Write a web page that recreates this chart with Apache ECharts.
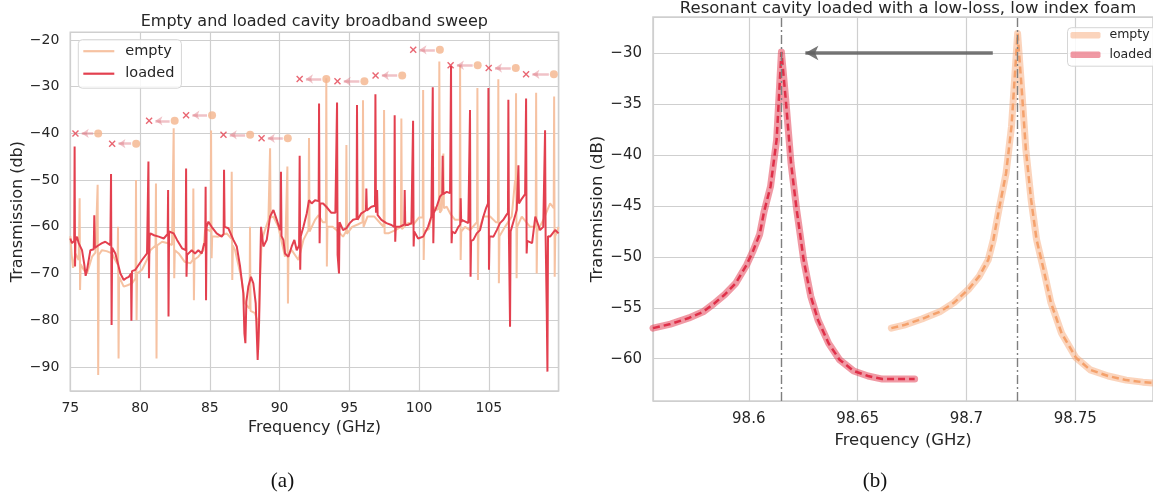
<!DOCTYPE html>
<html><head><meta charset="utf-8">
<script src="https://cdn.jsdelivr.net/npm/echarts@6/dist/echarts.min.js"></script>
<style>html,body{margin:0;padding:0;background:#fff}#c{width:1153px;height:492px}</style>
</head><body><div id="c"></div>
<script>
// ---------- (a) broadband sweep ----------
const broadEmpty = [
[75.0,-62],[75.1,-66],[75.2,-68.8],[75.36,-65.7],[75.6,-67.1],
[75.64,-67],[75.67,-53.9],[75.7,-73.5],[75.74,-68],
[75.96,-69.2],[76.2,-70],[76.56,-66.4],[76.8,-65.5],
[76.93,-65.5],[76.96,-51],[77.0,-91.7],[77.04,-66],
[77.27,-65],[77.6,-65.2],[77.99,-65.7],[78.2,-67],
[78.39,-68],[78.42,-60],[78.46,-88.2],[78.5,-70.7],
[78.83,-72.8],[79.1,-72.5],[79.42,-72.1],
[79.68,-71],[79.71,-50],[79.75,-80],[79.79,-70],
[80.14,-69.2],[80.5,-67],[80.74,-65],
[81.11,-64],[81.14,-50.7],[81.18,-88.2],[81.22,-64],
[81.58,-63.2],[82.0,-63.5],[82.29,-63.9],
[82.38,-64],[82.41,-38.9],[82.45,-71],[82.49,-65],
[82.77,-65.7],[83.2,-67.5],[83.61,-67.8],
[83.79,-67],[83.82,-51.8],[83.86,-75.7],[83.9,-67],
[84.18,-66.4],[84.54,-65],[84.66,-60.7],[84.9,-60.7],
[85.06,-61],[85.09,-39.4],[85.13,-66.7],[85.17,-62],
[85.61,-62.1],[86.21,-61.4],
[86.54,-62.5],[86.57,-48.2],[86.61,-71.4],[86.65,-64],
[86.81,-65],[87.29,-71.4],[87.52,-76.4],
[87.85,-77.5],[87.88,-60],[87.92,-78],
[88.24,-78.5],[88.4,-80],[88.48,-86.4],[88.55,-75],[88.72,-62.8],[89.2,-58.5],
[89.29,-58.3],[89.32,-43.2],[89.36,-58],
[89.56,-57.8],[89.91,-60],[90.39,-66.4],
[90.53,-66],[90.56,-47.1],[90.6,-76.4],[90.64,-66],
[90.87,-65],[91.35,-67.1],[91.71,-62.8],[92.07,-60.7],
[92.08,-60.5],[92.11,-41],[92.15,-61],
[92.54,-58.5],[92.8,-57.5],[93.1,-59],
[93.32,-59],[93.35,-28.2],[93.39,-68.5],[93.43,-60],
[93.8,-60],[94.2,-61],[94.55,-62.1],
[94.76,-61],[94.79,-42.5],[94.83,-61.5],
[95.2,-60],[95.6,-59.5],
[95.95,-59],[95.98,-32.9],[96.02,-60],
[96.3,-57.8],[96.8,-57.8],[97.3,-59.5],
[97.46,-60],[97.49,-35],[97.53,-61.4],
[97.8,-61.4],[98.3,-60.7],
[98.7,-60],[98.73,-36.8],[98.77,-60.5],
[99.2,-59.2],[99.6,-59.5],[100.0,-58],
[100.26,-58],[100.29,-30.7],[100.33,-67.1],[100.37,-61],
[100.7,-60.5],[101.02,-55.7],[101.26,-56.4],
[101.42,-56],[101.45,-24.6],[101.49,-57],
[101.62,-56.4],
[101.71,-56],[101.74,-44.3],[101.78,-56],
[101.98,-55.7],[102.22,-57.1],[102.58,-58.5],
[102.91,-58.5],[102.94,-25.4],[102.98,-67.1],[103.02,-61],
[103.29,-60],[103.65,-60.7],[104.0,-59.5],
[104.15,-59],[104.18,-30.3],[104.22,-71.4],[104.26,-61],
[104.61,-57.8],[105.09,-57.8],[105.5,-59],
[105.65,-59],[105.68,-28.4],[105.72,-72.1],[105.76,-62],
[106.16,-60],[106.64,-57.8],[106.88,-50],
[106.92,-52],[106.95,-31.4],[106.99,-71],[107.03,-60],
[107.36,-57.8],[107.96,-60],
[108.36,-60],[108.39,-31.3],[108.43,-70],[108.47,-61],
[108.91,-58.5],[109.39,-55],
[109.65,-56],[109.68,-32.1],[109.72,-70.7],[109.76,-62],
[110.0,-60]
];
const broadLoaded = [
[75.0,-62.5],[75.12,-63.5],
[75.28,-63],[75.31,-42.8],[75.34,-68.5],[75.37,-63],
[75.48,-62.1],[75.6,-63.5],[75.84,-65.0],[76.0,-68],[76.1,-70.5],[76.2,-69.2],[76.44,-65],
[76.68,-64.8],[76.72,-57.5],[76.76,-64.5],
[77.0,-64.0],[77.27,-63.5],[77.51,-63.2],[77.87,-63.9],
[77.92,-48.7],[77.96,-81],[78.0,-64.5],
[78.23,-65.7],[78.59,-70],[78.83,-71.4],[79.0,-71],[79.2,-70.7],
[79.35,-70],[79.38,-80.1],[79.42,-69.5],
[79.66,-69.2],[80.14,-67.1],[80.5,-65.7],
[80.6,-46.0],[80.64,-71],[80.68,-62],
[80.74,-61.4],[81.0,-61.8],[81.34,-62.1],[81.7,-62.5],
[81.98,-61.5],[82.01,-52.1],[82.04,-79.2],[82.08,-61],
[82.41,-61.4],[82.65,-62.8],[83.01,-64.6],
[83.27,-65],[83.3,-47.5],[83.33,-70.7],[83.37,-66],
[83.49,-66],[83.7,-65],[83.94,-65.7],[84.18,-65],[84.42,-65.7],[84.6,-63.5],
[84.67,-64],[84.7,-51.4],[84.73,-75.7],[84.77,-60],
[84.9,-58.9],[85.13,-60],[85.49,-61.4],[85.85,-62.1],
[85.99,-61.5],[86.02,-47.8],[86.06,-60],
[86.14,-59.6],[86.33,-60.3],[86.69,-62.8],[86.93,-64.2],[87.17,-68.5],[87.4,-74.2],
[87.48,-82.8],[87.55,-84.9],[87.62,-76],[87.76,-72.8],[87.95,-70.7],[88.12,-72.1],
[88.29,-76.4],[88.43,-88.5],[88.53,-80.7],[88.67,-60],[88.84,-64.2],[89.08,-62.8],
[89.32,-57.8],[89.56,-56.4],[89.8,-58.5],[90.03,-60.7],
[90.07,-60],[90.1,-48.2],[90.14,-62],
[90.27,-62.8],[90.39,-65.7],[90.63,-66.4],[90.87,-64.2],[91.06,-62.8],[91.23,-65],
[91.4,-64],[91.44,-44.8],[91.48,-69.2],[91.52,-62],
[91.71,-60],[91.95,-57.1],[92.11,-54.3],[92.3,-55],[92.54,-54.3],
[92.8,-54.5],[92.83,-33.6],[92.87,-63.5],[92.91,-55],
[93.12,-55],[93.35,-55.7],[93.71,-57],[94.0,-57],
[94.09,-57],[94.12,-33.4],[94.16,-66],[94.26,-70],[94.3,-59],
[94.43,-59.2],[94.55,-60.7],[94.79,-60.3],[95.03,-59.2],[95.27,-58.5],
[95.52,-58.3],[95.55,-33.9],[95.59,-58.5],
[95.86,-57.1],
[96.19,-56.5],[96.22,-51.8],[96.26,-56.5],
[96.58,-55.7],
[96.84,-55.5],[96.87,-31.6],[96.91,-57],[96.99,-52.1],[97.03,-57.5],
[97.3,-58.5],[97.66,-59.2],[98.02,-59.6],
[98.22,-60],[98.25,-36.1],[98.29,-63.2],[98.33,-60],
[98.61,-60],
[98.94,-59.5],[98.97,-52.1],[99.01,-59.6],
[99.21,-59.6],[99.45,-59.2],
[99.54,-59.5],[99.57,-37.3],[99.61,-64.2],[99.65,-61],
[99.93,-62.5],[100.29,-62.1],[100.64,-60],[100.88,-57.8],
[100.95,-57.5],[100.98,-30.1],[101.02,-63.5],[101.06,-57],
[101.26,-55.7],[101.5,-53.5],
[101.66,-53],[101.69,-44.8],[101.73,-53],
[101.98,-52.5],[102.22,-52.8],
[102.26,-52.8],[102.29,-25.5],[102.33,-63.5],[102.37,-61],
[102.58,-61.4],[102.82,-60],
[102.95,-59.5],[102.98,-53.9],[103.02,-59],
[103.06,-58.5],[103.53,-59.2],
[103.62,-59.5],[103.65,-35],[103.69,-70.7],[103.73,-63],
[103.89,-62.8],[104.13,-61.4],[104.37,-60.7],[104.61,-57.8],[104.8,-56],
[104.94,-55],[104.97,-30.3],[105.01,-69.2],[105.05,-62],
[105.33,-62.1],[105.57,-60.7],[105.8,-59.2],[106.04,-58.5],[106.25,-57.5],
[106.37,-57],[106.4,-32.8],[106.44,-62],[106.52,-81.4],[106.56,-61],
[106.64,-60.7],[107.0,-56.4],
[107.09,-56],[107.12,-46.8],[107.16,-55],
[107.36,-54],[107.6,-53],
[107.64,-53],[107.67,-32.5],[107.71,-65.7],[107.75,-63],
[108.1,-63.5],[108.33,-57.8],[108.67,-60.7],[108.9,-60],
[109.0,-60],[109.03,-39.3],[109.07,-62],[109.15,-78],[109.2,-91],[109.24,-62],
[109.39,-62.1],[109.75,-60.7],[110.0,-61.4]
];
const modeDb        = [-40.0,-42.2,-37.3,-36.1,-40.3,-41.05,-28.35,-28.85,-27.6,-22.1,-25.4,-26.0,-27.35];
const loadedModeGHz = [75.37,78.0,80.65,83.3,85.98,88.71,91.44,94.15,96.88,99.58,102.26,104.99,107.67];
const emptyModeGHz  = [77.0,79.72,82.48,85.16,87.89,90.59,93.35,96.08,98.79,101.49,104.2,106.93,109.66];

// ---------- (b) single resonance ----------
const resLoaded = [
[98.556,-57.0],[98.564,-56.6],[98.5725,-56.0],[98.579,-55.4],[98.584,-54.6],[98.589,-53.7],
[98.594,-52.6],[98.599,-50.8],[98.602,-49.4],[98.605,-47.8],[98.607,-45.6],[98.610,-43.1],
[98.6128,-38.5],[98.615,-29.9],[98.617,-34.6],[98.6194,-40.8],[98.622,-45.4],[98.6236,-47.8],
[98.6252,-50.3],[98.6285,-53.9],[98.6318,-56.2],[98.6367,-58.5],[98.6417,-60.1],[98.6482,-61.2],
[98.6548,-61.7],[98.6614,-62.0],[98.668,-62.0],[98.6762,-62.0]
];
const resEmpty = [
[98.6655,-57.0],[98.6713,-56.7],[98.6795,-56.1],[98.6877,-55.4],[98.6943,-54.5],[98.7009,-53.2],
[98.7059,-51.9],[98.71,-50.3],[98.7124,-48.3],[98.7149,-45.4],[98.7182,-41.8],[98.7207,-37.2],
[98.7235,-28.1],[98.7253,-33.3],[98.7273,-39.5],[98.7297,-44.4],[98.7322,-48.3],[98.7355,-51.3],
[98.7388,-54.5],[98.7437,-57.5],[98.7503,-59.9],[98.7569,-61.1],[98.7651,-61.7],[98.7734,-62.1],
[98.781,-62.3],[98.787,-62.4]
];
const resPeakGHz = [98.615, 98.7235];
const shiftArrow = {from: [98.7121, -30], to: [98.626, -30]};
const shiftLabel = {at: [98.669, -34.02], text: '0.11 GHz'};

const FONT = '"DejaVu Sans", sans-serif';
const INK = '#262626';
const GRIDC = '#cfcfcf';
const minus = s => String(s).replace('-', '\u2212');

const chart = echarts.init(document.getElementById('c'), null, {renderer: 'canvas'});

const xMark = 'path://M1.4,0L5,3.6L8.6,0L10,1.4L6.4,5L10,8.6L8.6,10L5,6.4L1.4,10L0,8.6L3.6,5L0,1.4Z';

const option = {
  animation: false,
  backgroundColor: '#fff',
  textStyle: {fontFamily: FONT},
  grid: [
    {left: 70.3, top: 32.3, right: 594.4, bottom: 101, show: true, borderColor: GRIDC, borderWidth: 1.5, containLabel: false},
    {left: 653, top: 17, right: -10, bottom: 91, show: true, borderColor: GRIDC, borderWidth: 1.5, containLabel: false}
  ],
  xAxis: [
    {gridIndex: 0, type: 'value', min: 75, max: 110, interval: 5,
     name: 'Frequency (GHz)', nameLocation: 'middle', nameGap: 25,
     nameTextStyle: {fontSize: 16, color: INK, fontFamily: FONT},
     axisLine: {show: false}, axisTick: {show: false},
     axisLabel: {fontSize: 14, color: INK, margin: 10, showMaxLabel: false, fontFamily: FONT},
     splitLine: {show: true, lineStyle: {color: GRIDC, width: 1.2}}},
    {gridIndex: 1, type: 'value', min: 98.556, max: 98.7857, splitNumber: 5,
     name: 'Frequency (GHz)', nameLocation: 'middle', nameGap: 29,
     nameTextStyle: {fontSize: 16.5, color: INK, fontFamily: FONT},
     axisLine: {show: false}, axisTick: {show: false},
     axisLabel: {fontSize: 15, color: INK, margin: 11, showMinLabel: false, showMaxLabel: false, fontFamily: FONT,
       formatter: v => (Math.abs(v*20 - Math.round(v*20)) < 1e-6) ? String(+v.toFixed(2)) : ''},
     splitLine: {show: true, lineStyle: {color: GRIDC, width: 1.2}}}
  ],
  yAxis: [
    {gridIndex: 0, type: 'value', min: -95.15, max: -18.35, splitNumber: 8,
     name: 'Transmission (db)', nameLocation: 'middle', nameGap: 44,
     nameTextStyle: {fontSize: 16, color: INK, fontFamily: FONT},
     axisLine: {show: false}, axisTick: {show: false},
     axisLabel: {fontSize: 14, color: INK, margin: 11, showMinLabel: false, showMaxLabel: false, fontFamily: FONT,
       formatter: v => (Math.abs(v % 10) < 1e-6) ? minus(v) : ''},
     splitLine: {show: true, lineStyle: {color: GRIDC, width: 1.2}}},
    {gridIndex: 1, type: 'value', min: -64.15, max: -26.47, splitNumber: 8,
     name: 'Transmission (dB)', nameLocation: 'middle', nameGap: 46,
     nameTextStyle: {fontSize: 16.5, color: INK, fontFamily: FONT},
     axisLine: {show: false}, axisTick: {show: false},
     axisLabel: {fontSize: 15, color: INK, margin: 11, showMinLabel: false, showMaxLabel: false, fontFamily: FONT,
       formatter: v => (Math.abs(v % 5) < 1e-6) ? minus(v) : ''},
     splitLine: {show: true, lineStyle: {color: GRIDC, width: 1.2}}}
  ],
  legend: [
    {data: [{name: 'empty', icon: 'rect'}, {name: 'loaded', icon: 'rect'}], orient: 'vertical', left: 78.3, top: 39.7,
     itemWidth: 31, itemHeight: 2.2, itemGap: 7.5, padding: [4, 7, 7, 5],
     borderColor: '#d6d6d6', borderWidth: 1, borderRadius: 4, backgroundColor: 'rgba(255,255,255,0.85)',
     textStyle: {fontSize: 14.5, color: INK, fontFamily: FONT, padding: [0, 0, 0, 6]},
     selectedMode: false},
    {data: [{name: 'emptyB', icon: 'roundRect'}, {name: 'loadedB', icon: 'roundRect'}], formatter: n => n.slice(0, -1), orient: 'vertical', left: 1067.5, top: 27.7,
     itemWidth: 30, itemHeight: 6.5, itemGap: 6.5, padding: [1, 6, 5, 3],
     borderColor: '#d6d6d6', borderWidth: 1, borderRadius: 4, backgroundColor: 'rgba(255,255,255,0.85)',
     textStyle: {fontSize: 12.5, color: INK, fontFamily: FONT, padding: [0, 0, 0, 4]},
     selectedMode: false}
  ],
  graphic: [
    {type: 'text', x: 314.3, y: 22, style: {text: 'Empty and loaded cavity broadband sweep', font: '16px "DejaVu Sans"', fill: INK, align: 'center', verticalAlign: 'middle'}},
    {type: 'text', x: 908, y: 8.5, style: {text: 'Resonant cavity loaded with a low-loss, low index foam', font: '16.5px "DejaVu Sans"', fill: INK, align: 'center', verticalAlign: 'middle'}},
    {type: 'text', x: 282.5, y: 481.5, style: {text: '(a)', font: '21px "Liberation Serif"', fill: '#111', align: 'center', verticalAlign: 'middle'}},
    {type: 'text', x: 875, y: 481.5, style: {text: '(b)', font: '21px "Liberation Serif"', fill: '#111', align: 'center', verticalAlign: 'middle'}}
  ],
  series: [
    {name: 'empty', type: 'line', xAxisIndex: 0, yAxisIndex: 0, data: broadEmpty,
     symbol: 'none', showSymbol: false, z: 2, color: '#f6c2a2',
     lineStyle: {width: 2, color: '#f6c2a2'}},
    {name: 'loaded', type: 'line', xAxisIndex: 0, yAxisIndex: 0, data: broadLoaded,
     symbol: 'none', showSymbol: false, z: 3, color: '#e3404f',
     lineStyle: {width: 2, color: '#e3404f'}},
    {name: 'emptyModes', type: 'scatter', xAxisIndex: 0, yAxisIndex: 0, z: 5,
     data: emptyModeGHz.map((x, i) => [x, modeDb[i]]),
     symbol: 'circle', symbolSize: 8, itemStyle: {color: '#f4b48c'},
     markLine: {silent: true, symbol: ['none', 'arrow'], symbolSize: [7, 7], label: {show: false},
       lineStyle: {color: 'rgba(222,120,130,0.45)', width: 2.5, type: 'solid'},
       data: emptyModeGHz.map((x, i) => [{coord: [x - 0.36, modeDb[i]]}, {coord: [loadedModeGHz[i] + 0.45, modeDb[i]]}])}},
    {name: 'loadedModes', type: 'scatter', xAxisIndex: 0, yAxisIndex: 0, z: 6,
     data: loadedModeGHz.map((x, i) => [x, modeDb[i]]),
     symbol: xMark, symbolSize: 7, itemStyle: {color: '#e3404f'}},
    {name: 'emptyB', type: 'line', xAxisIndex: 1, yAxisIndex: 1, data: resEmpty,
     symbol: 'none', showSymbol: false, z: 2, color: 'rgba(247,170,122,0.5)',
     lineStyle: {width: 7, color: 'rgba(247,170,122,0.5)', cap: 'round', join: 'round'}},
    {name: 'loadedB', type: 'line', xAxisIndex: 1, yAxisIndex: 1, data: resLoaded,
     symbol: 'none', showSymbol: false, z: 2, color: 'rgba(228,70,90,0.55)',
     lineStyle: {width: 7, color: 'rgba(228,70,90,0.55)', cap: 'round', join: 'round'}},
    {name: 'emptyFit', type: 'line', xAxisIndex: 1, yAxisIndex: 1, data: resEmpty,
     symbol: 'none', showSymbol: false, z: 3,
     lineStyle: {width: 2.5, color: '#f4a16c', type: [7, 4]}},
    {name: 'loadedFit', type: 'line', xAxisIndex: 1, yAxisIndex: 1, data: resLoaded,
     symbol: 'none', showSymbol: false, z: 3,
     lineStyle: {width: 2.5, color: '#df3049', type: [7, 4]}},
    {name: 'annot', type: 'scatter', xAxisIndex: 1, yAxisIndex: 1, z: 8,
     data: [shiftLabel.at], symbolSize: 1, itemStyle: {opacity: 0},
     label: {show: true, position: 'inside', formatter: '{i|δf}{n| = ' + shiftLabel.text + '}',
       backgroundColor: '#fff', borderColor: '#111', borderWidth: 1.2, borderRadius: 5, padding: [4, 6, 4, 6],
       rich: {i: {fontFamily: FONT, fontStyle: 'italic', fontSize: 16.5, color: '#000'},
              n: {fontFamily: FONT, fontSize: 16.5, color: '#000'}}},
     markLine: {silent: true, label: {show: false}, animation: false,
       data: [
         [{xAxis: resPeakGHz[0], yAxis: -64.15, symbol: 'none', lineStyle: {color: '#7f7f7f', width: 1.4, type: [9, 3, 2, 3]}},
          {xAxis: resPeakGHz[0], yAxis: -26.47, symbol: 'none'}],
         [{xAxis: resPeakGHz[1], yAxis: -64.15, symbol: 'none', lineStyle: {color: '#7f7f7f', width: 1.4, type: [9, 3, 2, 3]}},
          {xAxis: resPeakGHz[1], yAxis: -26.47, symbol: 'none'}],
         [{coord: shiftArrow.from, symbol: 'none', lineStyle: {color: 'rgba(95,95,95,0.85)', width: 3.5, type: 'solid'}},
          {coord: shiftArrow.to, symbol: 'arrow', symbolSize: [11, 13]}]
       ]}}
  ]
};
chart.setOption(option);
</script>
</body></html>
